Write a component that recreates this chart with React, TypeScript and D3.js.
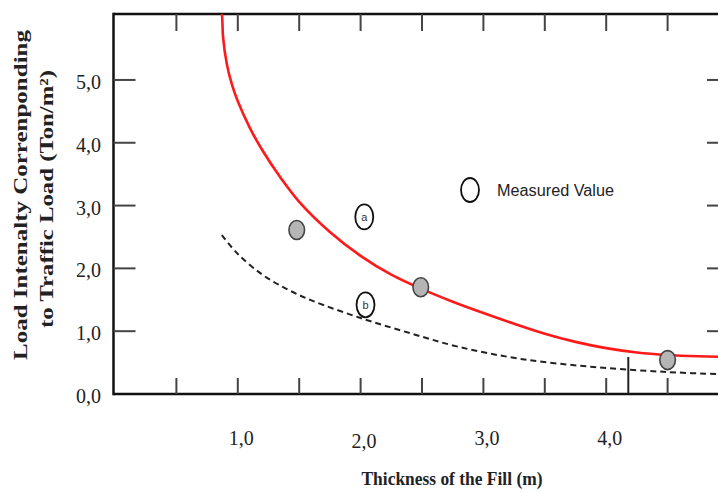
import React from "react";
import * as d3 from "d3";

// red curve (upper bound)
const redThickness = [0.868, 0.875, 0.88, 0.91, 0.95, 1.0, 1.1, 1.2, 1.35, 1.5, 1.75, 2.0, 2.25, 2.5, 2.75, 3.0, 3.25, 3.5, 3.75, 4.0, 4.25, 4.5, 4.75, 5.0];
const redLoad = [6.2, 5.9, 5.68, 5.26, 4.94, 4.66, 4.23, 3.88, 3.44, 3.06, 2.58, 2.2, 1.9, 1.67, 1.47, 1.29, 1.12, 0.96, 0.83, 0.73, 0.66, 0.62, 0.6, 0.59];

// dashed curve
const dashThickness = [0.87, 1.0, 1.2, 1.4, 1.6, 2.0, 2.4, 2.8, 3.3, 3.9, 4.5, 5.0];
const dashLoad = [2.53, 2.23, 1.9, 1.67, 1.49, 1.21, 0.97, 0.75, 0.56, 0.43, 0.35, 0.31];

// grey points
const greyThickness = [1.48, 2.49, 4.5];
const greyLoad = [2.61, 1.7, 0.54];

// measured values (open circles)
const measuredLabels = ["a", "b"];
const measuredThickness = [2.03, 2.04];
const measuredLoad = [2.82, 1.42];

const markerThickness = 4.18;
const markerLoad = 0.59;

const xTickLabels = [1, 2, 3, 4];
const xMinorTicks = [0.5, 1, 1.5, 2, 2.5, 3, 3.5, 4, 4.5];
const yTickLabels = [0, 1, 2, 3, 4, 5];

const fmt = (v: number) => v.toFixed(1).replace(".", ",");

export default function App() {
  const width = 718;
  const height = 493;

  const x = d3.scaleLinear().domain([0, 5]).range([115, 729]);
  const y = d3.scaleLinear().domain([0, 6.05]).range([394, 14]);

  const redPath = d3
    .line<number>()
    .x((d) => x(d))
    .y((_, i) => y(redLoad[i]))
    .curve(d3.curveCatmullRom.alpha(0.5))(redThickness);

  const dashPath = d3
    .line<number>()
    .x((d) => x(d))
    .y((_, i) => y(dashLoad[i]))
    .curve(d3.curveCatmullRom.alpha(0.5))(dashThickness);

  const left = x(0) - 1.5;
  const top = y(6.05);
  const bottom = y(0);
  const right = x(5);
  const serif = "'Liberation Serif', 'Times New Roman', serif";

  return (
    <svg
      width={width}
      height={height}
      style={{ position: "absolute", left: 0, top: 0, background: "#fff" }}
    >
      <defs>
        <clipPath id="plot">
          <rect x={left} y={top} width={right - left} height={bottom - top} />
        </clipPath>
      </defs>

      {/* frame */}
      <g stroke="#111" strokeWidth={2.5} fill="none">
        <line x1={left} y1={top} x2={right} y2={top} />
        <line x1={left} y1={bottom} x2={right} y2={bottom} />
        <line x1={left} y1={top - 1.2} x2={left} y2={bottom + 1.2} />
        <line x1={right} y1={top} x2={right} y2={bottom} />
      </g>

      {/* ticks */}
      <g stroke="#444" strokeWidth={2}>
        {xMinorTicks.map((t) => (
          <g key={"xt" + t}>
            <line x1={x(t)} y1={bottom} x2={x(t)} y2={bottom - 16} />
            <line x1={x(t)} y1={top} x2={x(t)} y2={top + 17} />
          </g>
        ))}
        {yTickLabels
          .filter((t) => t > 0)
          .map((t) => (
            <g key={"yt" + t}>
              <line x1={left} y1={y(t)} x2={left + 22} y2={y(t)} />
              <line x1={right} y1={y(t)} x2={right - 22} y2={y(t)} />
            </g>
          ))}
        <line
          x1={x(markerThickness)}
          y1={bottom}
          x2={x(markerThickness)}
          y2={y(markerLoad)}
          stroke="#222"
        />
      </g>

      {/* tick labels */}
      <g fontFamily={serif} fontSize={22} fill="#222">
        {yTickLabels.map((t) => (
          <text
            key={"yl" + t}
            x={76}
            y={y(t) + 9}
            textLength={25}
            lengthAdjust="spacingAndGlyphs"
          >
            {fmt(t)}
          </text>
        ))}
        {xTickLabels.map((t) => (
          <text
            key={"xl" + t}
            x={x(t) - 9}
            y={t === 2 ? 448 : 445}
            textLength={25}
            lengthAdjust="spacingAndGlyphs"
          >
            {fmt(t)}
          </text>
        ))}
      </g>

      {/* curves */}
      <g clipPath="url(#plot)">
        <path d={dashPath || ""} fill="none" stroke="#222" strokeWidth={2} strokeDasharray="6,4" />
        <path d={redPath || ""} fill="none" stroke="#ff1a1a" strokeWidth={2.6} />
      </g>

      {/* grey points */}
      {greyThickness.map((t, i) => (
        <ellipse
          key={"g" + i}
          cx={x(t)}
          cy={y(greyLoad[i])}
          rx={7.8}
          ry={9.5}
          fill="#b5b5b5"
          stroke="#444"
          strokeWidth={1.6}
        />
      ))}

      {/* measured values */}
      {measuredThickness.map((t, i) => (
        <g key={"m" + i}>
          <ellipse
            cx={x(t)}
            cy={y(measuredLoad[i])}
            rx={9}
            ry={12.5}
            fill="#fff"
            stroke="#111"
            strokeWidth={1.8}
          />
          <text
            x={x(t)}
            y={y(measuredLoad[i]) + 4}
            textAnchor="middle"
            fontFamily="'Liberation Sans', Arial, sans-serif"
            fontSize={11}
            fill="#333"
          >
            {measuredLabels[i]}
          </text>
        </g>
      ))}

      {/* legend */}
      <ellipse cx={470} cy={190} rx={9} ry={12} fill="#fff" stroke="#111" strokeWidth={1.8} />
      <text
        x={497}
        y={196}
        fontFamily="'Liberation Sans', Arial, sans-serif"
        fontSize={16}
        fill="#222"
        textLength={117}
        lengthAdjust="spacingAndGlyphs"
      >
        Measured Value
      </text>

      {/* axis titles */}
      <text
        x={452}
        y={485}
        textAnchor="middle"
        fontFamily={serif}
        fontWeight="bold"
        fontSize={18}
        fill="#222"
        textLength={181}
        lengthAdjust="spacingAndGlyphs"
      >
        Thickness of the Fill (m)
      </text>
      <text
        transform="translate(27,195) rotate(-90)"
        textAnchor="middle"
        fontFamily={serif}
        fontWeight="bold"
        fontSize={19}
        fill="#222"
        textLength={330}
        lengthAdjust="spacingAndGlyphs"
      >
        Load Intenalty Correnponding
      </text>
      <text
        transform="translate(53,199) rotate(-90)"
        textAnchor="middle"
        fontFamily={serif}
        fontWeight="bold"
        fontSize={19}
        fill="#222"
        textLength={258}
        lengthAdjust="spacingAndGlyphs"
      >
        to Traffic Load (Ton/m²)
      </text>
    </svg>
  );
}
